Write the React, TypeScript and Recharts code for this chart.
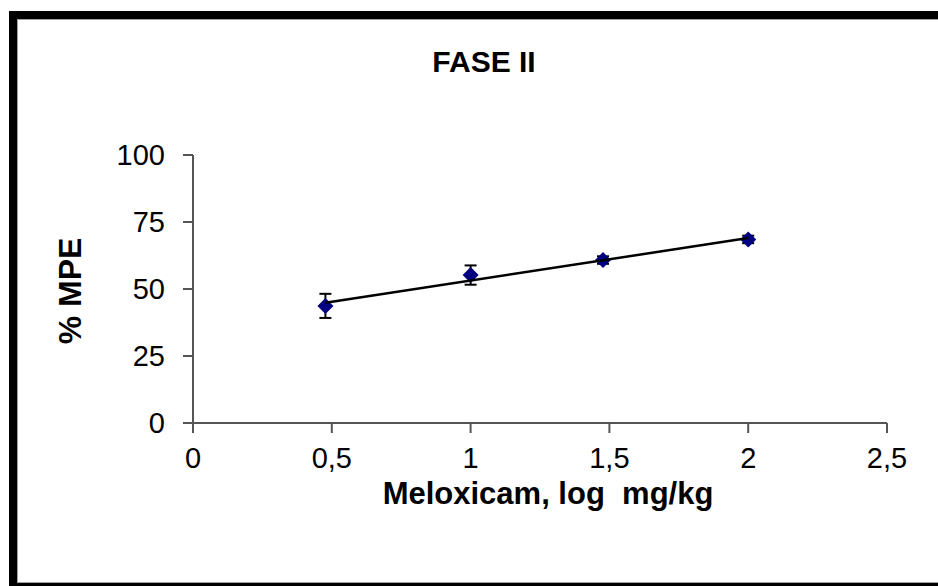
import React from "react";
import { ComposedChart, Scatter, ErrorBar, XAxis, YAxis } from "recharts";

// log dose (mg/kg) vs %MPE, phase II
const logDose = [0.477, 1, 1.477, 2];
const mpe = [43.7, 55.2, 60.8, 68.5];
const sem = [4.5, 3.6, 1.4, 1.4];

// fitted regression line, read at its two ends
const trendX = [0.477, 2];
const trendY = [44.9, 69.0];

const xTicks = [0, 0.5, 1, 1.5, 2, 2.5];
const yTicks = [0, 25, 50, 75, 100];

const points = logDose.map((x, i) => ({ x, y: mpe[i], err: sem[i] }));
const trend = trendX.map((x, i) => ({ x, y: trendY[i] }));

const FONT = "'Liberation Sans', Arial, sans-serif";
const AXIS = "#555555";

const Diamond = (props: any) => {
  const { cx, cy } = props;
  if (cx == null || cy == null) return null;
  const r = 8;
  return (
    <polygon
      points={`${cx},${cy - r} ${cx + r},${cy} ${cx},${cy + r} ${cx - r},${cy}`}
      fill="#000080"
    />
  );
};

const YLabel = (props: any) => {
  const vb = props.viewBox || {};
  const cx = vb.x + 70;
  const cy = vb.y + vb.height / 2 + 2;
  return (
    <text
      x={cx}
      y={cy}
      transform={`rotate(-90, ${cx}, ${cy})`}
      textAnchor="middle"
      dominantBaseline="central"
      fontFamily={FONT}
      fontWeight="bold"
      fontSize={32}
      fill="#000"
    >
      % MPE
    </text>
  );
};

const XLabel = (props: any) => {
  const vb = props.viewBox || {};
  const cx = vb.x + vb.width / 2 + 8;
  return (
    <text
      x={cx}
      y={vb.y + 70}
      textAnchor="middle"
      dominantBaseline="central"
      fontFamily={FONT}
      fontWeight="bold"
      fontSize={31}
      fill="#000"
      style={{ whiteSpace: "pre" }}
    >
      Meloxicam, log  mg/kg
    </text>
  );
};

export default function App() {
  return (
    <div
      style={{
        position: "absolute",
        left: 0,
        top: 0,
        width: 938,
        height: 586,
        overflow: "hidden",
        background: "#fff",
      }}
    >
      <div
        style={{
          position: "absolute",
          left: 9,
          top: 11,
          width: 960,
          height: 580,
          border: "8px solid #000",
          boxSizing: "border-box",
        }}
      >
        <div
          style={{
            position: "absolute",
            inset: 0,
            borderLeft: "1px solid #a0a0a0",
            borderTop: "1px solid #a0a0a0",
            borderBottom: "1px solid #a0a0a0",
          }}
        />
      </div>
      <div
        style={{
          position: "absolute",
          left: 0,
          top: 45,
          width: 968,
          textAlign: "center",
          fontFamily: FONT,
          fontWeight: "bold",
          fontSize: 30,
          color: "#000",
        }}
      >
        FASE II
      </div>
      <div style={{ position: "absolute", left: 0, top: 0 }}>
        <ComposedChart
          width={938}
          height={586}
          margin={{ top: 155, right: 51, bottom: 0, left: 0 }}
        >
          <XAxis
            type="number"
            dataKey="x"
            domain={[0, 2.5]}
            ticks={xTicks}
            interval={0}
            allowDataOverflow
            height={163}
            stroke={AXIS}
            strokeWidth={2}
            tickSize={10}
            tickMargin={14}
            tick={{ fill: "#000", fontSize: 29, fontFamily: FONT }}
            tickFormatter={(v) => String(v).replace(".", ",")}
            label={<XLabel />}
          />
          <YAxis
            type="number"
            dataKey="y"
            domain={[0, 100]}
            ticks={yTicks}
            interval={0}
            width={193}
            stroke={AXIS}
            strokeWidth={2}
            tickSize={10}
            tickMargin={18}
            tick={{ fill: "#000", fontSize: 29, fontFamily: FONT }}
            label={<YLabel />}
          />
          <Scatter data={points} shape={<Diamond />} isAnimationActive={false}>
            <ErrorBar
              dataKey="err"
              direction="y"
              width={6}
              stroke="#000"
              strokeWidth={2}
              isAnimationActive={false}
            />
          </Scatter>
          <Scatter
            data={trend}
            line={{ stroke: "#000", strokeWidth: 2.5 }}
            shape={() => null}
            isAnimationActive={false}
          />
        </ComposedChart>
      </div>
    </div>
  );
}
